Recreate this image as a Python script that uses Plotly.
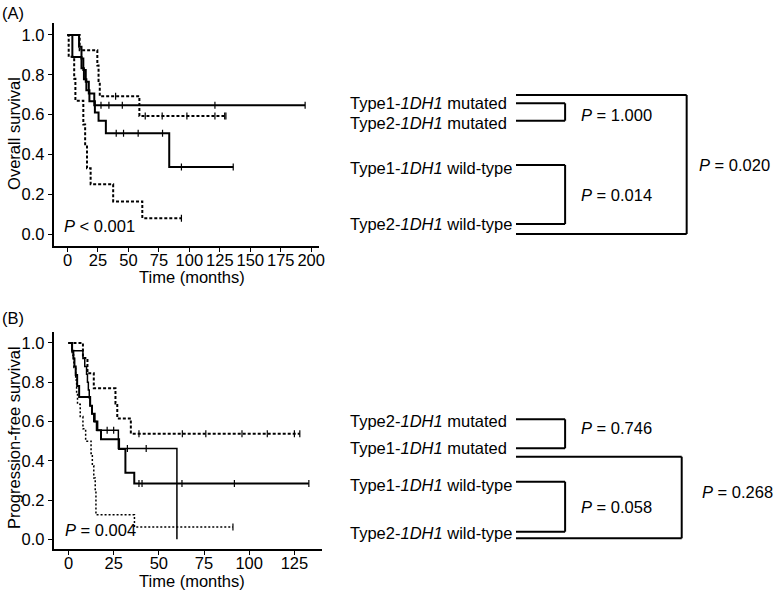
import numpy as np
import plotly.graph_objects as go

# ---------------- DATA ----------------
# Panel A: overall survival (time in months, survival probability)
a_t1_mut_time = [0, 9.5, 11.5, 13, 15, 17.5, 22, 195]
a_t1_mut_surv = [1.0, 0.941, 0.882, 0.824, 0.765, 0.706, 0.647, 0.647]
a_t1_mut_cens = [27.5, 34, 45, 121, 195]

a_t2_mut_time = [0, 10, 24.5, 25.5, 26.5, 59, 130]
a_t2_mut_surv = [1.0, 0.923, 0.846, 0.769, 0.692, 0.593, 0.593]
a_t2_mut_cens = [39.5, 63.8, 77.7, 98, 121, 129, 130]

a_t1_wt_time = [0, 4, 11.5, 13.5, 15.5, 18, 22.5, 25.5, 31.5, 83.5, 136]
a_t1_wt_surv = [1.0, 0.889, 0.833, 0.778, 0.722, 0.667, 0.611, 0.569, 0.506, 0.337, 0.337]
a_t1_wt_cens = [40, 46, 58, 78, 93.5, 136]

a_t2_wt_time = [0, 1, 5.5, 6.5, 13, 14.5, 16, 19, 37.5, 61.4, 93.5]
a_t2_wt_surv = [1.0, 0.89, 0.78, 0.67, 0.55, 0.44, 0.33, 0.25, 0.164, 0.08, 0.08]
a_t2_wt_cens = [93.5]

# Panel B: progression-free survival
b_t2_mut_time = [0, 8, 10.5, 14, 26, 27, 34.5, 128]
b_t2_mut_surv = [1.0, 0.923, 0.846, 0.769, 0.692, 0.615, 0.538, 0.538]
b_t2_mut_cens = [39, 63, 76, 96, 110, 125, 128]

b_sol_a_time = [0, 2, 8, 9, 10, 10.5, 11, 11.5, 12, 13, 14, 15.5, 27.6, 60]
b_sol_a_surv = [1.0, 0.96, 0.92, 0.88, 0.84, 0.80, 0.76, 0.72, 0.68, 0.64, 0.60, 0.555, 0.463, 0.0]
b_sol_a_cens = [21.4, 25, 32.6, 43]

b_sol_b_time = [0, 2, 2.7, 3.3, 4, 4.8, 5.9, 12, 13, 14.5, 16, 18, 28, 31.5, 36.4, 133]
b_sol_b_surv = [1.0, 0.96, 0.92, 0.88, 0.836, 0.78, 0.725, 0.68, 0.64, 0.60, 0.555, 0.51, 0.46, 0.339, 0.285, 0.285]
b_sol_b_cens = [39, 40.7, 62.8, 91.8, 133]

b_t2_wt_time = [0, 2, 3, 4, 4.5, 5, 6.5, 8, 9.5, 12.5, 13.2, 14, 14.8, 15.2, 36.5, 91]
b_t2_wt_surv = [1.0, 0.9375, 0.875, 0.8125, 0.75, 0.6875, 0.625, 0.5625, 0.5, 0.4375, 0.375, 0.3125, 0.25, 0.125, 0.0625, 0.0625]
b_t2_wt_cens = [91]

a_xticks = [0, 25, 50, 75, 100, 125, 150, 175, 200]
b_xticks = [0, 25, 50, 75, 100, 125]
y_ticks = [0.0, 0.2, 0.4, 0.6, 0.8, 1.0]

a_labels = ["Type1-<i>1DH1</i> mutated", "Type2-<i>1DH1</i> mutated",
            "Type1-<i>1DH1</i> wild-type", "Type2-<i>1DH1</i> wild-type"]
a_pvals = ["<i>P</i> = 1.000", "<i>P</i> = 0.014", "<i>P</i> = 0.020"]
b_labels = ["Type2-<i>1DH1</i> mutated", "Type1-<i>1DH1</i> mutated",
            "Type1-<i>1DH1</i> wild-type", "Type2-<i>1DH1</i> wild-type"]
b_pvals = ["<i>P</i> = 0.746", "<i>P</i> = 0.058", "<i>P</i> = 0.268"]

# ---------------- LAYOUT HELPERS ----------------
W, H = 779, 592
FONT = "Liberation Sans, Arial, Helvetica, sans-serif"
FS = 16.5


def fx(px):
    return px / W


def fy(py):
    return 1 - py / H


fig = go.Figure()


def add_curve(time, surv, cens, xa, ya, dash, width):
    fig.add_trace(go.Scatter(x=time, y=surv, mode="lines", line_shape="hv",
                             line=dict(color="black", width=width, dash=dash),
                             xaxis=xa, yaxis=ya, showlegend=False, hoverinfo="skip"))
    t = np.array(time)
    s = np.array(surv)
    idx = np.searchsorted(t, np.array(cens), side="right") - 1
    fig.add_trace(go.Scatter(x=cens, y=s[idx], mode="markers",
                             marker=dict(symbol="line-ns", size=5,
                                         line=dict(color="black", width=1.2)),
                             xaxis=xa, yaxis=ya, showlegend=False, hoverinfo="skip"))


add_curve(a_t1_mut_time, a_t1_mut_surv, a_t1_mut_cens, "x", "y", "solid", 2)
add_curve(a_t2_mut_time, a_t2_mut_surv, a_t2_mut_cens, "x", "y", "3px,2px", 2)
add_curve(a_t1_wt_time, a_t1_wt_surv, a_t1_wt_cens, "x", "y", "solid", 2)
add_curve(a_t2_wt_time, a_t2_wt_surv, a_t2_wt_cens, "x", "y", "3px,2px", 2)

add_curve(b_t2_mut_time, b_t2_mut_surv, b_t2_mut_cens, "x2", "y2", "3px,2px", 2)
add_curve(b_sol_a_time, b_sol_a_surv, b_sol_a_cens, "x2", "y2", "solid", 1.5)
add_curve(b_sol_b_time, b_sol_b_surv, b_sol_b_cens, "x2", "y2", "solid", 2)
add_curve(b_t2_wt_time, b_t2_wt_surv, b_t2_wt_cens, "x2", "y2", "2px,2px", 1.5)

axis_common = dict(showline=True, linecolor="black", linewidth=1.5, ticks="outside",
                   ticklen=4, tickwidth=1.2, tickcolor="black", showgrid=False,
                   zeroline=False, tickfont=dict(family=FONT, size=FS, color="black"))

fig.update_layout(
    width=W, height=H, margin=dict(l=0, r=0, t=0, b=0),
    paper_bgcolor="white", plot_bgcolor="white",
    xaxis=dict(domain=[fx(54), fx(321)], range=[-11.4, 206], anchor="y",
               tickvals=a_xticks, ticklabelstandoff=-6, **axis_common),
    yaxis=dict(domain=[fy(246), fy(23)], range=[-0.06, 1.06], anchor="x",
               tickvals=y_ticks, ticktext=[f"{v:.1f}" for v in y_ticks], **axis_common),
    xaxis2=dict(domain=[fx(54), fx(324)], range=[-8.24, 140], anchor="y2",
                tickvals=b_xticks, ticklabelstandoff=-6, **axis_common),
    yaxis2=dict(domain=[fy(549), fy(331.7)], range=[-0.049, 1.057], anchor="x2",
                tickvals=y_ticks, ticktext=[f"{v:.1f}" for v in y_ticks], **axis_common),
)

ann = []


def text(px, py, s, xanchor="left", angle=0):
    ann.append(dict(x=fx(px), y=fy(py), xref="paper", yref="paper", text=s,
                    showarrow=False, xanchor=xanchor, yanchor="middle", textangle=angle,
                    font=dict(family=FONT, size=FS, color="black")))


# panel tags and axis titles
text(0, 13, "(A)")
text(0, 318, "(B)")
text(14, 133, "Overall survival", "center", -90)
text(14, 438, "Progression-free survival", "center", -90)
text(193, 277, "Time (months)", "center")
text(193, 581, "Time (months)", "center")
text(62, 226, "<i>P</i> < 0.001")
text(63, 530, "<i>P</i> = 0.004")

shapes = []


def seg(x0, y0, x1, y1):
    shapes.append(dict(type="line", xref="paper", yref="paper",
                       x0=fx(x0), y0=fy(y0), x1=fx(x1), y1=fy(y1),
                       line=dict(color="black", width=2)))


def bracket(xl, xr, ytop, ybot):
    seg(xl, ytop, xr, ytop)
    seg(xr, ytop, xr, ybot)
    seg(xl, ybot, xr, ybot)


# Panel A comparison diagram
a_rows = [103.3, 123.3, 168.3, 224]
for lab, yy in zip(a_labels, a_rows):
    text(351, yy, lab)
bracket(520, 569.5, 103.3, 120.7)
bracket(520, 569.5, 165, 224)
bracket(520, 692, 95, 234)
text(583, 115, a_pvals[0])
text(583, 195, a_pvals[1])
text(702, 165, a_pvals[2])

# Panel B comparison diagram
b_rows = [420.7, 448.3, 485, 533.3]
for lab, yy in zip(b_labels, b_rows):
    text(351, yy, lab)
bracket(520, 569.5, 419.3, 448.3)
bracket(520, 569.5, 481.7, 531.7)
bracket(520, 687, 456.7, 538.3)
text(583, 428.3, b_pvals[0])
text(583, 506.7, b_pvals[1])
text(705, 491.7, b_pvals[2])

fig.update_layout(annotations=ann, shapes=shapes)
fig.write_html("out.html", config={"displayModeBar": False},
               post_script="document.body.style.margin='0px';document.body.style.overflow='hidden';")
